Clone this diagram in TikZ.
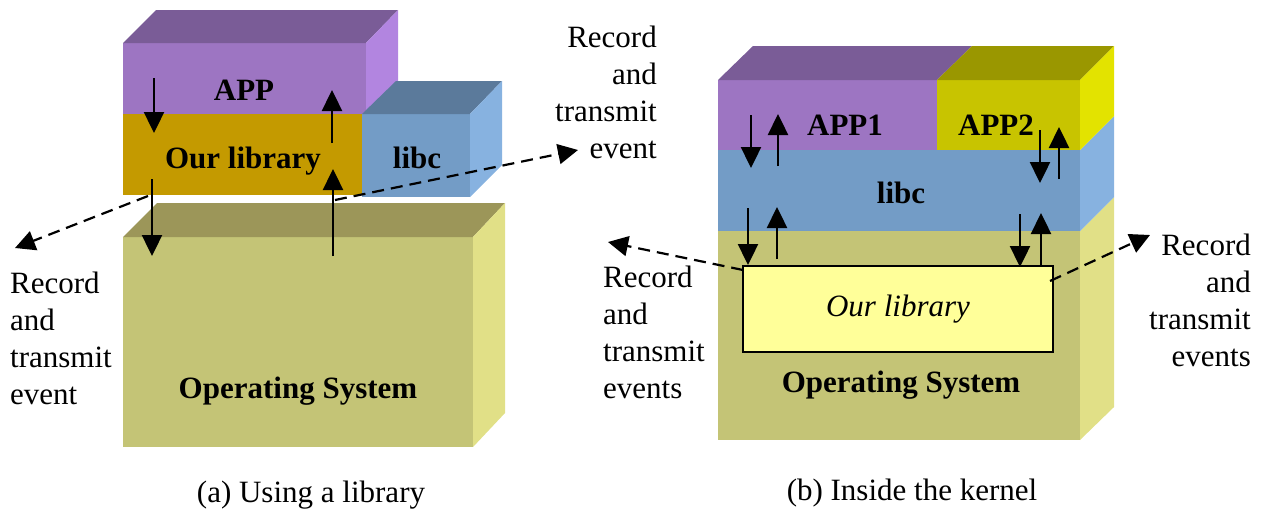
\documentclass[tikz,border=0pt]{standalone}
\usepackage{fontspec}
\setmainfont{Liberation Serif}
\usetikzlibrary{arrows.meta}
\definecolor{appfront}{HTML}{9D75C2}
\definecolor{apptop}{HTML}{7A5C97}
\definecolor{appside}{HTML}{B285E0}
\definecolor{goldlib}{HTML}{C49A00}
\definecolor{libcfront}{HTML}{739CC6}
\definecolor{libctop}{HTML}{5B7A9B}
\definecolor{libcside}{HTML}{87B2E0}
\definecolor{osfront}{HTML}{C4C476}
\definecolor{ostop}{HTML}{9C9659}
\definecolor{osside}{HTML}{E1E087}
\definecolor{apptwofront}{HTML}{C8C400}
\definecolor{apptwotop}{HTML}{9A9700}
\definecolor{apptwoside}{HTML}{E3E300}
\definecolor{ourlibyellow}{HTML}{FFFF99}
\tikzset{
  txt/.style={inner sep=0pt, font=\fontsize{31}{37}\selectfont},
  bold/.style={txt, font=\fontsize{31}{37}\selectfont\bfseries},
  flow/.style={line width=2.4pt, -{Triangle[width=20pt,length=21pt]}},
  evt/.style={line width=2.2pt, dash pattern=on 12pt off 7pt, -{Triangle[width=20pt,length=20pt]}}
}
\begin{document}
\begin{tikzpicture}[x=1pt,y=-1pt]
\useasboundingbox (0,0) rectangle (1263,512);
% ---------------- (a) ----------------
% Operating system
\fill[osfront] (123,237) rectangle (473,447);
\fill[ostop] (123,237)--(157,203)--(505,203)--(473,237)--cycle;
\fill[osside] (473,237)--(505,203)--(505,413)--(473,447)--cycle;
% Our library
\fill[goldlib] (123,114) rectangle (362,195);
% APP
\fill[appfront] (123,43) rectangle (366,114);
\fill[apptop] (123,43)--(156,10)--(398,10)--(366,43)--cycle;
\fill[appside] (366,43)--(398,10)--(398,81)--(366,114)--cycle;
% libc
\fill[libcfront] (362,114) rectangle (470,197);
\fill[libctop] (362,114)--(396,81)--(502,81)--(470,114)--cycle;
\fill[libcside] (470,114)--(502,81)--(502,165)--(470,197)--cycle;

\node[bold, anchor=base] (appA) at (244,100) {APP};
\node[bold, anchor=base] (ourlibA) at (243,168) {Our library};
\node[bold, anchor=base] (libcA) at (417,168) {libc};
\node[bold, anchor=base] (osA) at (298,398) {Operating System};

\node[txt, anchor=base east, align=right] (recA1) at (657,158) {Record\\and\\transmit\\event};
\node[txt, anchor=base west, align=left] (recA2) at (10,404) {Record\\and\\transmit\\event};

\coordinate (a1s) at (154,78);  \coordinate (a1e) at (154,133);
\coordinate (a2s) at (332,143); \coordinate (a2e) at (332,90);
\coordinate (a3s) at (152,179); \coordinate (a3e) at (152,256);
\coordinate (a4s) at (333,256); \coordinate (a4e) at (333,169);
\draw[flow] (a1s) -- (a1e);
\draw[flow] (a2s) -- (a2e);
\draw[flow] (a3s) -- (a3e);
\draw[flow] (a4s) -- (a4e);
\coordinate (d1s) at (148,196); \coordinate (d1e) at (15,248);
\coordinate (d2s) at (335,200); \coordinate (d2e) at (578,150);
\draw[evt] (d1s) -- (d1e);
\draw[evt] (d2s) -- (d2e);

% ---------------- (b) ----------------
\fill[osfront] (718,231) rectangle (1080,440);
\fill[osside] (1080,231)--(1114,197)--(1114,407)--(1080,440)--cycle;
\fill[libcfront] (718,150) rectangle (1080,231);
\fill[libcside] (1080,150)--(1114,116)--(1114,197)--(1080,231)--cycle;
\fill[appfront] (718,80) rectangle (937,150);
\fill[apptop] (718,80)--(753,46)--(972,46)--(937,80)--cycle;
\fill[apptwofront] (937,80) rectangle (1080,150);
\fill[apptwotop] (937,80)--(972,46)--(1114,46)--(1080,80)--cycle;
\fill[apptwoside] (1080,80)--(1114,46)--(1114,116)--(1080,150)--cycle;

\node[bold, anchor=base] (app1B) at (845,135) {APP1};
\node[bold, anchor=base] (app2B) at (996,135) {APP2};
\node[bold, anchor=base] (libcB) at (901,203) {libc};
\node[draw, line width=2pt, fill=ourlibyellow, minimum width=310pt, minimum height=86pt,
      font=\fontsize{31}{37}\selectfont\itshape] (ourlibB) at (898,309) {Our library};
\node[bold, anchor=base] (osB) at (901,392) {Operating System};

\node[txt, anchor=base west, align=left] (recB1) at (603,398) {Record\\and\\transmit\\events};
\node[txt, anchor=base east, align=right] (recB2) at (1251,366) {Record\\and\\transmit\\events};

\coordinate (b1s) at (751,115);  \coordinate (b1e) at (751,168);
\coordinate (b2s) at (778,166);  \coordinate (b2e) at (778,114);
\coordinate (b3s) at (1040,130); \coordinate (b3e) at (1040,183);
\coordinate (b4s) at (1059,179); \coordinate (b4e) at (1059,127);
\coordinate (b5s) at (748,208);  \coordinate (b5e) at (748,265);
\coordinate (b6s) at (777,259);  \coordinate (b6e) at (777,207);
\coordinate (b7s) at (1020,214); \coordinate (b7e) at (1020,267);
\coordinate (b8s) at (1041,266); \coordinate (b8e) at (1041,213);
\draw[flow] (b1s) -- (b1e);
\draw[flow] (b2s) -- (b2e);
\draw[flow] (b3s) -- (b3e);
\draw[flow] (b4s) -- (b4e);
\draw[flow] (b5s) -- (b5e);
\draw[flow] (b6s) -- (b6e);
\draw[flow] (b7s) -- (b7e);
\draw[flow] (b8s) -- (b8e);
\coordinate (d3s) at (743,270);  \coordinate (d3e) at (608,242);
\coordinate (d4s) at (1050,281); \coordinate (d4e) at (1150,235);
\draw[evt] (d3s) -- (d3e);
\draw[evt] (d4s) -- (d4e);

% captions
\node[txt, anchor=base] (capA) at (311,502) {(a) Using a library};
\node[txt, anchor=base] (capB) at (912,500) {(b) Inside the kernel};
\end{tikzpicture}
\end{document}
